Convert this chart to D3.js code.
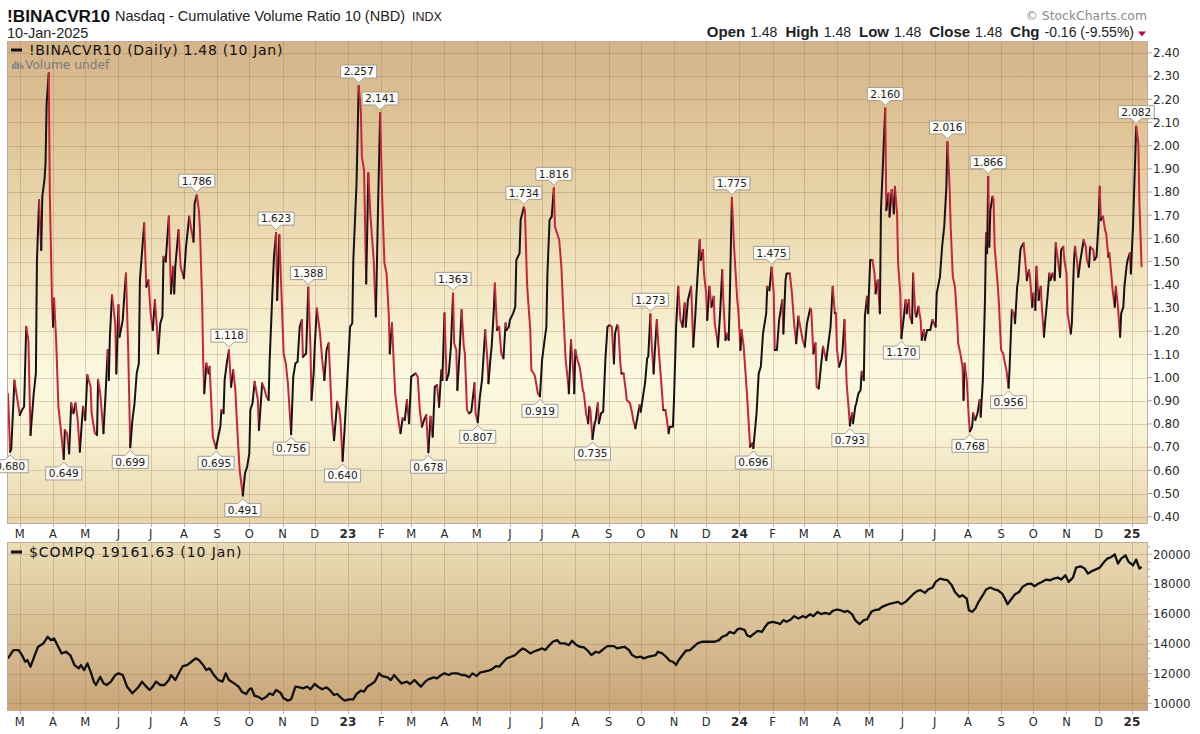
<!DOCTYPE html>
<html><head><meta charset="utf-8">
<script src="https://cdn.jsdelivr.net/npm/d3@7/dist/d3.min.js"></script>
<style>html,body{margin:0;padding:0;background:#fff}svg{display:block}</style>
</head><body><svg id="c" width="1200" height="734"></svg>
<script>
// ---------- DATA ----------
const binDates = [
"22-02-18","22-02-20","22-02-21","22-02-24",
"22-03-01","22-03-03","22-03-05","22-03-07","22-03-09","22-03-11","22-03-14","22-03-16","22-03-17","22-03-19","22-03-21","22-03-22","22-03-24","22-03-25","22-03-26","22-03-28","22-03-29","22-03-31",
"22-04-01","22-04-02","22-04-04","22-04-06","22-04-08","22-04-11","22-04-12","22-04-14","22-04-16","22-04-18","22-04-20","22-04-22","22-04-24","22-04-26","22-04-28","22-04-29",
"22-05-01","22-05-03","22-05-06","22-05-07","22-05-10","22-05-12","22-05-13","22-05-15","22-05-18","22-05-20","22-05-22","22-05-23","22-05-24","22-05-26","22-05-29","22-05-30",
"22-06-01","22-06-02","22-06-05","22-06-06","22-06-08","22-06-10","22-06-12","22-06-14","22-06-16","22-06-18","22-06-20","22-06-21","22-06-25","22-06-27","22-06-29",
"22-07-01","22-07-03","22-07-05","22-07-07","22-07-08","22-07-10","22-07-12","22-07-13","22-07-15","22-07-18","22-07-20","22-07-22","22-07-23","22-07-24","22-07-27","22-07-29",
"22-08-01","22-08-03","22-08-06","22-08-08","22-08-10","22-08-11","22-08-13","22-08-15","22-08-16","22-08-18","22-08-19","22-08-20","22-08-22","22-08-24","22-08-25","22-08-27","22-08-28","22-08-31",
"22-09-02","22-09-04","22-09-05","22-09-07","22-09-08","22-09-10","22-09-12","22-09-14","22-09-16","22-09-18","22-09-20","22-09-22","22-09-25","22-09-27","22-09-29",
"22-10-01","22-10-02","22-10-04","22-10-06","22-10-09","22-10-10","22-10-13","22-10-15","22-10-17","22-10-19","22-10-20","22-10-22","22-10-24","22-10-26","22-10-27","22-10-29","22-10-31",
"22-11-02","22-11-04","22-11-06","22-11-09","22-11-11","22-11-13","22-11-15","22-11-17","22-11-19","22-11-20","22-11-23","22-11-25","22-11-27","22-11-28","22-11-30",
"22-12-01","22-12-03","22-12-06","22-12-08","22-12-10","22-12-12","22-12-14","22-12-15","22-12-17","22-12-19","22-12-22","22-12-24","22-12-25","22-12-27","22-12-29","22-12-31",
"23-01-03","23-01-05","23-01-06","23-01-09","23-01-11","23-01-13","23-01-14","23-01-16","23-01-18","23-01-20","23-01-22","23-01-25","23-01-27","23-01-29","23-01-31",
"23-02-02","23-02-04","23-02-06","23-02-08","23-02-09","23-02-11","23-02-14","23-02-17","23-02-19","23-02-21","23-02-23","23-02-25","23-02-27",
"23-03-01","23-03-05","23-03-07","23-03-09","23-03-11","23-03-13","23-03-15","23-03-17","23-03-19","23-03-21","23-03-23","23-03-25","23-03-27","23-03-29","23-03-30",
"23-04-01","23-04-03","23-04-05","23-04-07","23-04-09","23-04-10","23-04-12","23-04-13","23-04-15","23-04-17","23-04-19","23-04-20","23-04-22","23-04-24","23-04-26","23-04-29","23-04-30",
"23-05-02","23-05-04","23-05-06","23-05-09","23-05-11","23-05-12","23-05-14","23-05-15","23-05-17","23-05-18","23-05-20","23-05-22","23-05-24","23-05-26","23-05-28","23-05-29","23-05-31",
"23-06-01","23-06-04","23-06-06","23-06-07","23-06-10","23-06-11","23-06-14","23-06-15","23-06-17","23-06-18","23-06-20","23-06-21","23-06-24","23-06-25","23-06-27","23-06-29",
"23-07-01","23-07-03","23-07-05","23-07-06","23-07-08","23-07-10","23-07-12","23-07-13","23-07-15","23-07-17","23-07-19","23-07-21","23-07-23","23-07-25","23-07-26","23-07-28","23-07-30","23-07-31",
"23-08-01","23-08-03","23-08-05","23-08-06","23-08-08","23-08-09","23-08-11","23-08-13","23-08-14","23-08-15","23-08-17","23-08-19","23-08-20","23-08-22","23-08-23","23-08-25","23-08-27","23-08-29","23-08-31",
"23-09-02","23-09-04","23-09-06","23-09-07","23-09-09","23-09-10","23-09-12","23-09-13","23-09-15","23-09-17","23-09-18","23-09-21","23-09-23","23-09-24","23-09-26","23-09-28","23-09-30",
"23-10-01","23-10-04","23-10-05","23-10-07","23-10-08","23-10-10","23-10-11","23-10-13","23-10-14","23-10-16","23-10-18","23-10-20","23-10-22","23-10-24","23-10-25","23-10-27","23-10-28","23-10-31",
"23-11-01","23-11-03","23-11-05","23-11-07","23-11-09","23-11-11","23-11-12","23-11-14","23-11-17","23-11-19","23-11-21","23-11-22","23-11-25","23-11-26","23-11-28","23-11-29",
"23-12-01","23-12-02","23-12-04","23-12-06","23-12-08","23-12-09","23-12-11","23-12-12","23-12-14","23-12-16","23-12-17","23-12-19","23-12-20","23-12-22","23-12-23","23-12-25","23-12-27","23-12-30","23-12-31",
"24-01-02","24-01-03","24-01-05","24-01-08","24-01-11","24-01-13","24-01-14","24-01-17","24-01-19","24-01-21","24-01-23","24-01-26","24-01-27","24-01-29","24-01-31",
"24-02-02","24-02-03","24-02-05","24-02-07","24-02-10","24-02-11","24-02-13","24-02-14","24-02-17","24-02-19","24-02-21","24-02-23","24-02-25","24-02-29",
"24-03-02","24-03-04","24-03-07","24-03-08","24-03-10","24-03-12","24-03-13","24-03-15","24-03-17","24-03-19","24-03-22","24-03-24","24-03-26","24-03-28","24-03-30","24-03-31",
"24-04-01","24-04-03","24-04-05","24-04-06","24-04-08","24-04-10","24-04-12","24-04-13","24-04-15","24-04-16","24-04-18","24-04-19","24-04-21","24-04-23","24-04-24","24-04-26","24-04-27","24-04-29","24-04-30",
"24-05-02","24-05-04","24-05-06","24-05-07","24-05-09","24-05-11","24-05-12","24-05-14","24-05-16","24-05-17","24-05-19","24-05-20","24-05-22","24-05-24","24-05-25","24-05-27","24-05-28","24-05-30","24-05-31",
"24-06-02","24-06-04","24-06-05","24-06-07","24-06-08","24-06-10","24-06-11","24-06-13","24-06-14","24-06-16","24-06-18","24-06-19","24-06-21","24-06-22","24-06-24","24-06-27","24-06-29",
"24-07-02","24-07-03","24-07-06","24-07-08","24-07-10","24-07-12","24-07-13","24-07-15","24-07-16","24-07-18","24-07-20","24-07-22","24-07-23","24-07-25","24-07-27","24-07-28","24-07-29","24-07-31",
"24-08-02","24-08-03","24-08-05","24-08-06","24-08-08","24-08-10","24-08-12","24-08-13","24-08-15","24-08-17","24-08-18","24-08-19","24-08-20","24-08-21","24-08-22","24-08-24","24-08-25","24-08-26","24-08-29","24-08-30",
"24-09-01","24-09-03","24-09-04","24-09-06","24-09-08","24-09-09","24-09-11","24-09-13","24-09-14","24-09-16","24-09-17","24-09-19","24-09-20","24-09-22","24-09-24","24-09-25","24-09-27","24-09-28","24-09-30",
"24-10-01","24-10-03","24-10-04","24-10-06","24-10-08","24-10-09","24-10-11","24-10-12","24-10-14","24-10-16","24-10-17","24-10-19","24-10-21","24-10-22","24-10-24","24-10-26","24-10-27","24-10-29","24-10-30",
"24-11-01","24-11-02","24-11-05","24-11-06","24-11-08","24-11-09","24-11-11","24-11-12","24-11-14","24-11-16","24-11-17","24-11-19","24-11-20","24-11-22","24-11-23","24-11-26","24-11-27","24-11-29",
"24-12-01","24-12-02","24-12-03","24-12-05","24-12-07","24-12-08","24-12-10","24-12-11","24-12-13","24-12-14","24-12-16","24-12-17","24-12-19","24-12-21","24-12-22","24-12-24","24-12-25","24-12-27","24-12-28","24-12-30","24-12-31",
"25-01-02","25-01-04","25-01-05","25-01-07","25-01-08","25-01-10"
];
const binValues = [
0.93,0.680,0.69,0.987,
0.838,0.86,0.874,1.219,1.162,0.752,0.932,1.018,1.507,1.766,1.55,1.78,1.852,1.924,2.18,2.312,1.794,1.334,
1.219,1.341,1.148,0.874,0.788,0.649,0.774,0.76,0.673,0.889,0.846,0.889,0.817,0.68,0.817,0.874,
0.817,1.011,0.96,0.846,0.76,0.752,0.989,0.932,0.76,0.932,1.119,0.989,1.176,1.356,1.234,1.018,
1.313,1.176,1.248,1.32,1.449,1.133,0.699,0.817,0.889,1.018,1.061,1.42,1.665,1.392,1.42,
1.277,1.205,1.334,1.205,1.104,1.234,1.263,1.521,1.5,1.694,1.363,1.478,1.363,1.478,1.636,1.478,
1.428,1.564,1.694,1.636,1.586,1.751,1.786,1.722,1.636,1.334,1.075,0.932,1.061,1.018,1.047,0.846,0.745,0.695,
0.745,0.788,0.86,0.846,0.989,1.061,1.118,0.96,1.032,0.946,0.76,0.601,0.491,0.587,0.616,
0.673,0.86,0.889,0.982,0.903,0.774,0.975,0.953,0.917,0.903,1.075,1.305,1.521,1.623,1.334,1.615,1.363,
1.104,1.061,0.975,0.756,1.004,1.061,1.068,1.219,1.248,1.09,1.104,1.388,1.133,0.903,1.018,
1.133,1.298,1.19,1.075,0.989,1.119,1.148,1.047,0.831,0.73,0.896,0.86,0.817,0.640,0.788,0.96,
1.219,1.234,1.507,1.837,2.257,2.154,1.952,1.895,1.406,1.881,1.694,1.507,1.263,1.722,2.141,
1.766,1.493,1.449,1.277,1.104,1.234,0.932,0.817,0.76,0.824,0.817,0.903,0.803,
1.004,1.018,1.004,0.86,0.788,0.817,0.838,0.678,0.831,0.745,0.96,0.968,0.874,1.032,0.989,
1.277,0.989,1.018,1.133,1.363,1.148,1.119,0.946,1.104,1.291,1.133,1.104,0.86,0.846,0.853,0.975,0.846,
0.807,0.917,0.989,1.205,1.075,0.975,1.09,1.133,1.291,1.406,1.205,1.219,1.104,1.083,1.234,1.205,1.219,
1.248,1.277,1.305,1.507,1.536,1.679,1.734,1.722,1.406,1.334,1.205,1.032,1.011,0.989,0.932,0.919,
1.075,1.148,1.219,1.449,1.679,1.694,1.816,1.651,1.622,1.593,1.478,1.263,1.075,0.989,0.932,1.162,1.032,0.932,
1.119,1.075,1.047,1.018,0.946,0.932,0.846,0.803,0.874,0.86,0.735,0.803,0.817,0.889,0.803,0.846,0.853,1.075,1.219,
1.226,1.219,1.061,1.19,1.226,1.219,1.061,1.018,1.018,0.946,0.903,0.889,0.846,0.817,0.781,0.831,0.881,
0.853,0.946,0.975,1.083,1.09,1.273,1.162,1.018,1.104,1.248,1.104,0.989,0.86,0.86,0.831,0.76,0.788,0.788,
0.903,1.219,1.392,1.248,1.219,1.32,1.219,1.334,1.392,1.133,1.277,1.363,1.593,1.507,1.55,1.449,
1.363,1.248,1.392,1.305,1.349,1.234,1.176,1.133,1.277,1.464,1.334,1.162,1.19,1.162,1.334,1.775,1.564,1.334,1.291,
1.119,1.205,1.133,0.932,0.702,0.716,0.696,0.846,1.018,1.047,1.19,1.277,1.392,1.377,1.475,
1.363,1.119,1.119,1.248,1.334,1.19,1.42,1.449,1.449,1.363,1.234,1.148,1.263,1.162,
1.133,1.234,1.298,1.291,1.104,1.148,0.96,0.953,1.047,1.133,1.075,1.148,1.219,1.392,1.277,1.277,
1.119,1.047,1.075,1.104,1.248,0.975,0.86,0.793,0.846,0.803,0.874,0.889,0.932,0.946,1.025,0.989,1.263,1.349,1.277,
1.507,1.507,1.449,1.363,1.42,1.277,1.722,1.938,2.160,1.722,1.794,1.694,1.809,1.708,1.823,1.708,1.493,1.363,1.170,
1.248,1.334,1.277,1.334,1.263,1.234,1.449,1.277,1.263,1.305,1.248,1.162,1.205,1.162,1.205,1.205,1.248,
1.219,1.363,1.434,1.564,1.651,1.823,2.016,1.823,1.651,1.434,1.392,1.248,1.148,1.104,1.047,0.903,1.061,0.989,
0.817,0.768,0.788,0.846,0.817,0.846,0.903,0.831,0.989,1.334,1.622,1.536,1.866,1.564,1.722,1.78,1.766,1.564,1.392,1.32,
1.119,1.104,1.075,1.032,0.956,1.047,1.291,1.277,1.234,1.392,1.42,1.55,1.564,1.579,1.478,1.42,1.464,1.434,1.305,
1.363,1.291,1.478,1.334,1.392,1.305,1.176,1.234,1.334,1.449,1.42,1.449,1.42,1.579,1.507,1.434,1.55,1.564,1.507,
1.449,1.277,1.19,1.234,1.507,1.564,1.493,1.434,1.507,1.564,1.593,1.564,1.507,1.478,1.564,1.55,1.507,1.521,
1.679,1.823,1.679,1.694,1.636,1.622,1.521,1.536,1.434,1.377,1.305,1.392,1.305,1.176,1.277,1.305,1.392,1.478,1.507,1.536,1.449,
1.651,1.938,2.082,2.01,1.751,1.48
];
const peakDates = ["22-08-13","22-09-12","22-10-26","22-11-25","23-01-11","23-01-31","23-04-09","23-06-14","23-07-12","23-10-10","23-12-25","24-01-31","24-05-16","24-07-13","24-08-20","25-01-05"];
const troughDates = ["22-02-20","22-04-11","22-06-12","22-08-31","22-09-25","22-11-09","22-12-27","23-03-17","23-05-02","23-06-29","23-08-17","24-01-14","24-04-13","24-05-31","24-08-03","24-09-08"];

const compDates = [
"22-02-18","22-02-23","22-02-28","22-03-03","22-03-06","22-03-08","22-03-11","22-03-15","22-03-18","22-03-23","22-03-27","22-03-30","22-04-02","22-04-05","22-04-09","22-04-13","22-04-17","22-04-21","22-04-25","22-04-27","22-04-30",
"22-05-03","22-05-06","22-05-09","22-05-11","22-05-15","22-05-18","22-05-21","22-05-25","22-05-29","22-06-01","22-06-05","22-06-09","22-06-14","22-06-17","22-06-20","22-06-23","22-06-27","22-06-30",
"22-07-03","22-07-06","22-07-10","22-07-14","22-07-18","22-07-20","22-07-24","22-07-28","22-07-31","22-08-04","22-08-08","22-08-12","22-08-15","22-08-19","22-08-22","22-08-25","22-08-29",
"22-09-02","22-09-06","22-09-09","22-09-12","22-09-16","22-09-21","22-09-24","22-09-28","22-10-01","22-10-03","22-10-06","22-10-09","22-10-13","22-10-17","22-10-20","22-10-23","22-10-26","22-10-30",
"22-11-02","22-11-06","22-11-09","22-11-13","22-11-17","22-11-20","22-11-24","22-11-27","22-12-01","22-12-04","22-12-08","22-12-12","22-12-15","22-12-19","22-12-22","22-12-26","22-12-29",
"23-01-02","23-01-06","23-01-09","23-01-13","23-01-16","23-01-19","23-01-23","23-01-26","23-01-30","23-02-02","23-02-07","23-02-10","23-02-13","23-02-17","23-02-20","23-02-25","23-02-28",
"23-03-04","23-03-07","23-03-10","23-03-14","23-03-17","23-03-22","23-03-25","23-03-29","23-04-01","23-04-05","23-04-08","23-04-13","23-04-17","23-04-20","23-04-24","23-04-27",
"23-05-01","23-05-04","23-05-08","23-05-12","23-05-15","23-05-19","23-05-22","23-05-26","23-05-29","23-06-02","23-06-06","23-06-09","23-06-13","23-06-16","23-06-20","23-06-23","23-06-27",
"23-07-01","23-07-04","23-07-08","23-07-11","23-07-15","23-07-18","23-07-22","23-07-26","23-07-29","23-08-02","23-08-05","23-08-09","23-08-12","23-08-16","23-08-20","23-08-23","23-08-28","23-08-31",
"23-09-06","23-09-09","23-09-13","23-09-16","23-09-20","23-09-23","23-09-27","23-10-01","23-10-04","23-10-08","23-10-11","23-10-15","23-10-17","23-10-21","23-10-24","23-10-28","23-10-31",
"23-11-03","23-11-05","23-11-09","23-11-12","23-11-16","23-11-20","23-11-23","23-11-27","23-12-01","23-12-06","23-12-09","23-12-13","23-12-16","23-12-20","23-12-23","23-12-27","23-12-30",
"24-01-02","24-01-06","24-01-08","24-01-11","24-01-15","24-01-18","24-01-22","24-01-25","24-01-28","24-02-01","24-02-05","24-02-08","24-02-11","24-02-14","24-02-18","24-02-21","24-02-25","24-02-29",
"24-03-03","24-03-07","24-03-10","24-03-14","24-03-17","24-03-21","24-03-25","24-03-28","24-04-01","24-04-04","24-04-08","24-04-11","24-04-15","24-04-18","24-04-22","24-04-26","24-04-29",
"24-05-03","24-05-06","24-05-10","24-05-13","24-05-17","24-05-21","24-05-24","24-05-28","24-05-31","24-06-04","24-06-08","24-06-11","24-06-15","24-06-18","24-06-22","24-06-25","24-06-29",
"24-07-02","24-07-06","24-07-10","24-07-13","24-07-17","24-07-20","24-07-24","24-07-27","24-07-31","24-08-02","24-08-05","24-08-08","24-08-11","24-08-15","24-08-18","24-08-22","24-08-26","24-08-29",
"24-09-02","24-09-05","24-09-07","24-09-11","24-09-14","24-09-18","24-09-21","24-09-25","24-09-29","24-10-02","24-10-06","24-10-09","24-10-13","24-10-17","24-10-20","24-10-24","24-10-27","24-10-31",
"24-11-03","24-11-07","24-11-10","24-11-14","24-11-18","24-11-21","24-11-25","24-11-28","24-12-02","24-12-06","24-12-09","24-12-13","24-12-16","24-12-19","24-12-22","24-12-26","24-12-29",
"25-01-02","25-01-05","25-01-08","25-01-10"
];
const compValues = [
13014,13572,13572,13237,12790,12902,12456,13237,13795,14018,14465,14241,14353,13907,13349,13460,13237,12567,12344,12567,12233,
12679,12121,11451,11228,11786,11340,11228,11451,11898,12009,11898,11117,10670,10894,11117,11451,11117,10894,
11117,11451,11228,11228,11563,11898,11563,12121,12500,12567,12790,13014,12902,12567,12233,12344,11898,
11563,11451,12009,11563,11385,11117,10782,10626,10938,11005,10491,10447,10268,10447,10670,10558,10894,10714,
10335,10179,10268,11117,11072,11005,11117,10938,11295,11117,10938,11072,10894,10558,10626,10335,10179,
10268,10268,10626,10849,10782,11117,11295,11451,12009,11831,11742,11563,11898,11563,11340,11451,11295,
11563,11340,11117,11451,11608,11742,11675,11898,12009,11898,12009,12009,11898,11898,11742,12009,
11831,12054,12121,12188,12277,12500,12456,12790,13014,13125,13237,13460,13683,13572,13349,13460,13572,
13683,13572,13907,14130,14241,14018,14018,13907,14197,13907,13795,13750,13572,13237,13460,13393,13683,13840,
13840,13683,13750,13795,13572,13237,13081,13125,13014,13125,13170,13237,13460,13349,13170,12857,12790,
12567,12857,13237,13527,13572,13840,14018,14130,14130,14130,14130,14241,14465,14576,14799,14688,14956,
15023,14911,14576,14465,14688,14866,14799,15134,15402,15469,15402,15313,15581,15469,15625,15848,15692,15848,
15759,15982,15848,16138,15982,16071,15982,16206,16295,16250,16138,16206,15982,15581,15313,15581,15625,
16138,16250,16295,16473,16585,16697,16741,16808,16652,16808,17098,17322,17545,17589,17411,17634,17768,
18147,18371,18304,18259,17924,17478,17143,17255,17031,16250,16138,16362,16808,17255,17634,17768,17634,17589,
17366,16964,16652,17031,17322,17478,17813,17991,18036,17857,18036,18147,18304,18259,18371,18438,18304,18594,
18147,18438,19107,19196,19040,18705,18884,18973,19107,19487,19710,19821,20000,19375,19710,19933,19487,
19263,19643,19040,19161.63
];

const topTicks = [0.40,0.50,0.60,0.70,0.80,0.90,1.00,1.10,1.20,1.30,1.40,1.50,1.60,1.70,1.80,1.90,2.00,2.10,2.20,2.30,2.40];
const botTicks = [10000,12000,14000,16000,18000,20000];
const monthLetters = ["J","F","M","A","M","J","J","A","S","O","N","D"];

// ---------- SETUP ----------
const parse = d3.utcParse("%y-%m-%d");
const svg = d3.select("#c");
const TOP = {l:7, r:1148, t:41, b:524};
const BOT = {l:7, r:1148, t:542, b:711};
const x = d3.scaleUtc().domain([parse("22-02-18"), parse("25-01-16")]).range([8, 1148]);
const yTop = d3.scaleLinear().domain([0.4, 2.4]).range([516.7, 52.9]);
const yBot = d3.scaleLinear().domain([10000, 20000]).range([703.3, 554.3]);
const months = d3.utcMonth.range(parse("22-03-01"), parse("25-01-16"));

const defs = svg.append("defs");
const g1 = defs.append("linearGradient").attr("id","gTop").attr("x1",0).attr("y1",0).attr("x2",0).attr("y2",1);
[[0,"#d4b488"],[0.22,"#e1c89b"],[0.48,"#f1e4be"],[0.7,"#fcf9e0"],[0.82,"#f8f1d3"],[1,"#e6d4aa"]].forEach(s=>g1.append("stop").attr("offset",s[0]).attr("stop-color",s[1]));
const g2 = defs.append("linearGradient").attr("id","gBot").attr("x1",0).attr("y1",0).attr("x2",0).attr("y2",1);
[[0,"#e9dcb5"],[1,"#c8a477"]].forEach(s=>g2.append("stop").attr("offset",s[0]).attr("stop-color",s[1]));
defs.append("clipPath").attr("id","cTop").append("rect").attr("x",TOP.l).attr("y",TOP.t).attr("width",TOP.r-TOP.l).attr("height",TOP.b-TOP.t);
defs.append("clipPath").attr("id","cBot").append("rect").attr("x",BOT.l).attr("y",BOT.t).attr("width",BOT.r-BOT.l).attr("height",BOT.b-BOT.t);

const gridCol = "rgba(150,105,80,0.28)";
const borderCol = "#c6a89c";

function panel(P, grad, yScale, ticks){
  svg.append("rect").attr("x",P.l).attr("y",P.t).attr("width",P.r-P.l).attr("height",P.b-P.t).attr("fill",`url(#${grad})`);
  const g = svg.append("g");
  g.selectAll(".v").data(months).join("line")
    .attr("x1",d=>Math.round(x(d))+0.5).attr("x2",d=>Math.round(x(d))+0.5)
    .attr("y1",P.t).attr("y2",P.b).attr("stroke",gridCol).attr("stroke-width",1);
  g.selectAll(".h").data(ticks).join("line")
    .attr("x1",P.l).attr("x2",P.r)
    .attr("y1",d=>Math.round(yScale(d))+0.5).attr("y2",d=>Math.round(yScale(d))+0.5)
    .attr("stroke",gridCol).attr("stroke-width",1);
}
panel(TOP,"gTop",yTop,topTicks);
panel(BOT,"gBot",yBot,botTicks);

// ---------- TOP SERIES (colored by direction) ----------
const binPts = binDates.map((d,i)=>({d:parse(d), v:binValues[i]}));
const runs = [];
for(let i=1;i<binPts.length;i++){
  const up = binPts[i].v >= binPts[i-1].v;
  const last = runs[runs.length-1];
  if(last && last.up===up) last.pts.push(binPts[i]);
  else runs.push({up, pts:[binPts[i-1], binPts[i]]});
}
const lineTop = d3.line().x(p=>x(p.d)).y(p=>yTop(p.v));
svg.append("g").attr("clip-path","url(#cTop)")
  .selectAll("path").data(runs).join("path")
  .attr("d",r=>lineTop(r.pts)).attr("fill","none")
  .attr("stroke",r=>r.up?"#141414":"#c8243a").attr("stroke-width",2)
  .attr("stroke-linejoin","round").attr("stroke-linecap","round");

// ---------- BOTTOM SERIES ----------
const compPts = compDates.map((d,i)=>({d:parse(d), v:compValues[i]}));
svg.append("g").attr("clip-path","url(#cBot)").append("path")
  .attr("d", d3.line().x(p=>x(p.d)).y(p=>yBot(p.v))(compPts))
  .attr("fill","none").attr("stroke","#111").attr("stroke-width",2.3).attr("stroke-linejoin","round");

// panel borders
[TOP,BOT].forEach(P=>svg.append("rect").attr("x",P.l+0.5).attr("y",P.t+0.5).attr("width",P.r-P.l-1).attr("height",P.b-P.t-1)
  .attr("fill","none").attr("stroke",borderCol).attr("stroke-width",1));

// ---------- ANNOTATIONS ----------
const valueAt = new Map(binPts.map(p=>[+p.d, p.v]));
const fmt3 = d3.format(".3f");
const verd = "DejaVu Sans, Verdana, sans-serif";
function note(dateStr, isPeak){
  const d = parse(dateStr), v = valueAt.get(+d);
  const px = x(d), py = yTop(v);
  const g = svg.append("g");
  const path = g.append("path");
  const t = g.append("text").attr("x",px).attr("text-anchor","middle")
    .attr("font-family",verd).attr("font-size","10.5px").attr("fill","#1a1a1a")
    .text(fmt3(v));
  const w = t.node().getComputedTextLength() + 6, h = 13;
  const s = isPeak ? -1 : 1;
  const tip = py + s*3, base = py + s*8, far = py + s*(8+h);
  path.attr("d",`M${px},${tip}L${px+5},${base}L${px+w/2},${base}L${px+w/2},${far}L${px-w/2},${far}L${px-w/2},${base}L${px-5},${base}Z`)
    .attr("fill","#fcfbf6").attr("stroke","#a39d92").attr("stroke-width",1);
  t.attr("y", isPeak ? far + 10.3 : base + 10.3);
}
peakDates.forEach(d=>note(d,true));
troughDates.forEach(d=>note(d,false));

// ---------- LEGENDS IN PANELS ----------
svg.append("rect").attr("x",11).attr("y",48.5).attr("width",11).attr("height",3).attr("fill","#111");
svg.append("text").attr("x",29).attr("y",55).attr("font-family",verd).attr("font-size","14px").attr("letter-spacing","0.7px").attr("fill","#111")
  .text("!BINACVR10 (Daily) 1.48 (10 Jan)");
const vb = svg.append("g").attr("fill","#8a8a8a");
[[12,64,2,5],[14.5,61,2,8],[17,62.5,2,6.5],[19.5,63.5,2,5.5],[22,65,1.5,4]].forEach(b=>vb.append("rect").attr("x",b[0]).attr("y",b[1]).attr("width",b[2]).attr("height",b[3]));
svg.append("text").attr("x",25).attr("y",69).attr("font-family",verd).attr("font-size","12.2px").attr("fill","#7a7a7a").text("Volume undef");
svg.append("rect").attr("x",11).attr("y",550.5).attr("width",11).attr("height",3).attr("fill","#111");
svg.append("text").attr("x",29).attr("y",557).attr("font-family",verd).attr("font-size","14px").attr("letter-spacing","0.9px").attr("fill","#111")
  .text("$COMPQ 19161.63 (10 Jan)");

// ---------- AXES ----------
const sans = "Liberation Sans, Arial, sans-serif";
const fmt2 = d3.format(".2f");
const ya = svg.append("g");
ya.selectAll("line").data(topTicks).join("line").attr("x1",TOP.r).attr("x2",TOP.r+4)
  .attr("y1",d=>yTop(d)).attr("y2",d=>yTop(d)).attr("stroke","#b89a92");
ya.selectAll("text").data(topTicks).join("text").attr("x",TOP.r+5).attr("y",d=>yTop(d)+4.3)
  .attr("font-family",verd).attr("font-size","12px").attr("fill","#2a2a2a").text(d=>fmt2(d));
const minor = d3.range(10000, 20501, 500);
svg.append("g").selectAll("line").data(minor).join("line").attr("x1",BOT.r).attr("x2",d=>BOT.r+(d%2000===0?4:2.5))
  .attr("y1",d=>yBot(d)).attr("y2",d=>yBot(d)).attr("stroke","#c9a7a0");
svg.append("g").selectAll("text").data(botTicks).join("text").attr("x",BOT.r+5).attr("y",d=>yBot(d)+4.3)
  .attr("font-family",verd).attr("font-size","11.8px").attr("fill","#2a2a2a").text(d=>d);

function xAxisRow(yTopEdge, yText){
  const g = svg.append("g");
  g.selectAll("line").data(months).join("line")
    .attr("x1",d=>Math.round(x(d))+0.5).attr("x2",d=>Math.round(x(d))+0.5)
    .attr("y1",yTopEdge).attr("y2",yTopEdge+3).attr("stroke","#d2a7a7");
  g.selectAll("text").data(months).join("text")
    .attr("x",d=>x(d)).attr("y",yText).attr("text-anchor","middle")
    .attr("font-family",verd)
    .attr("font-size",d=>d.getUTCMonth()===0?"12px":"11.5px")
    .attr("font-weight",d=>d.getUTCMonth()===0?"bold":"normal")
    .attr("fill","#2a2a2a")
    .text(d=>d.getUTCMonth()===0 ? d3.utcFormat("%y")(d) : monthLetters[d.getUTCMonth()]);
}
xAxisRow(TOP.b, 538);
xAxisRow(BOT.b, 726);

// ---------- HEADER ----------
svg.append("text").attr("x",7).attr("y",22).attr("font-family",sans).attr("font-weight","bold").attr("font-size","17.2px").attr("fill","#111").text("!BINACVR10");
svg.append("text").attr("x",115).attr("y",21).attr("font-family",sans).attr("font-size","14.5px").attr("fill","#222").text("Nasdaq - Cumulative Volume Ratio 10 (NBD)");
svg.append("text").attr("x",412).attr("y",21).attr("font-family",sans).attr("font-size","12.5px").attr("fill","#222").text("INDX");
svg.append("text").attr("x",7).attr("y",37.5).attr("font-family",sans).attr("font-size","14.5px").attr("fill","#222").text("10-Jan-2025");
svg.append("text").attr("x",1147).attr("y",19.5).attr("text-anchor","end").attr("font-family",verd).attr("font-size","12.4px").attr("fill","#8a8a8a").text("\u00A9 StockCharts.com");
const q = svg.append("text").attr("x",1134).attr("y",37).attr("text-anchor","end").attr("font-family",sans).attr("fill","#222");
[["Open",1,0],["1.48",0,5],["High",1,8],["1.48",0,5],["Low",1,8],["1.48",0,5],["Close",1,8],["1.48",0,5],["Chg",1,8],["-0.16 (-9.55%)",0,5]]
  .forEach(p=>q.append("tspan").attr("dx",p[2]).attr("font-weight",p[1]?"bold":"normal").attr("font-size",p[1]?"15px":"14px").text(p[0]));
svg.append("path").attr("d","M1138,31.5L1146,31.5L1142,36.5Z").attr("fill","#b3123a");
</script></body></html>
